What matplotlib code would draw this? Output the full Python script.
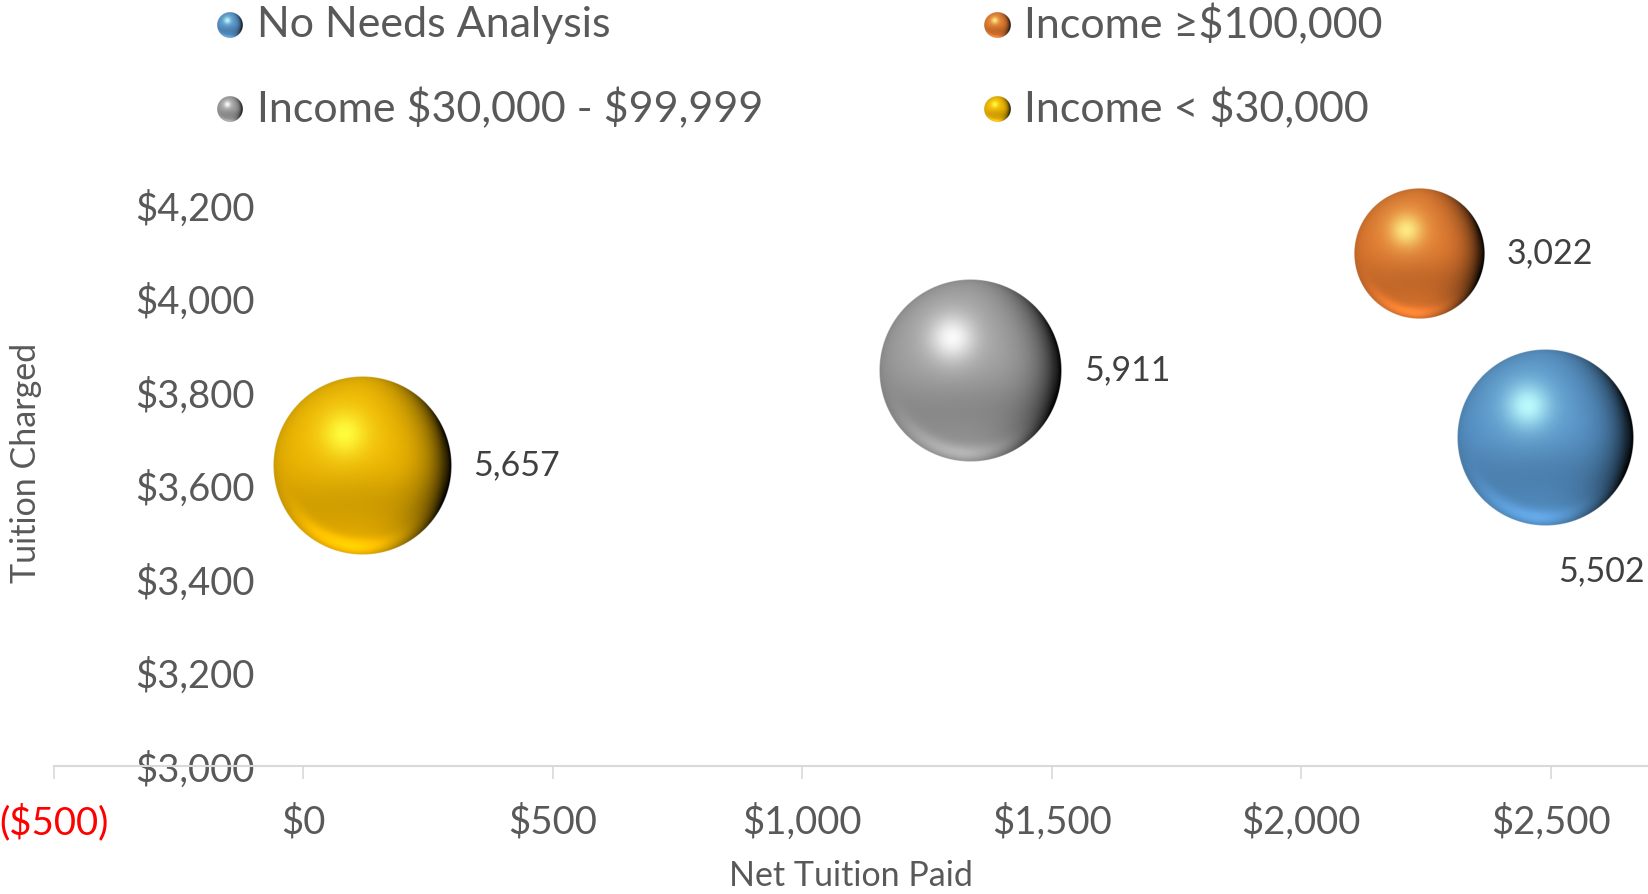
import numpy as np
import matplotlib.pyplot as plt
from matplotlib.colors import to_rgb

plt.rcParams['font.family'] = ['Lato', 'DejaVu Sans']
plt.rcParams['text.parse_math'] = False

# data
series = ["No Needs Analysis", "Income \u2265$100,000",
          "Income $30,000 - $99,999", "Income < $30,000"]
net_paid = [2488, 2236, 1337, 118]
tuition = [3703, 4097, 3847, 3643]
students = [5502, 3022, 5911, 5657]
colors = ["#5B9BD5", "#ED7D31", "#A5A5A5", "#FFC000"]
xticks = [-500, 0, 500, 1000, 1500, 2000, 2500]
yticks = [3000, 3200, 3400, 3600, 3800, 4000, 4200]

W, H = 1648, 894
grey = "#595959"


def sphere(color, n=300):
    # excel-ish "glossy ball" look
    v, u = np.mgrid[1:-1:n * 1j, -1:1:n * 1j]
    r = np.sqrt(u**2 + v**2)
    z = np.sqrt(np.clip(1 - r**2, 0, 1))
    base = np.array(to_rgb(color))
    f = 0.95 - 0.2 * (1 - z) ** 2
    f -= 0.16 * np.exp(-((v + 0.45) / 0.38) ** 2) * np.clip(1 - r, 0, 1) ** 0.3
    f -= 0.9 * np.clip(u + 0.1, 0, 1) ** 2 * (1 - z) ** 0.8
    f += 0.3 * np.exp(-((r - 0.9) / 0.09) ** 2) * np.clip(-v, 0, 1) ** 2 * np.clip(0.9 - u, 0, 1)
    rgb = base * np.clip(f, 0, 1.3)[..., None]
    tint = np.clip(base * 1.4 + 0.25, 0, 1)
    d2 = (u + 0.2) ** 2 + (v - 0.36) ** 2
    h = 0.75 * np.exp(-d2 / 0.06) + 0.2 * np.exp(-d2 / 0.3)
    rgb = rgb + (tint - rgb) * np.clip(h, 0, 1)[..., None]
    rgb = np.clip(rgb, 0, 1)
    alpha = np.clip((1 - r) * n / 2, 0, 1)
    return np.dstack([rgb, alpha])


fig = plt.figure(figsize=(W / 100, H / 100), dpi=100)
ax = fig.add_axes([53.6 / W, 1 - 766.2 / H, 1597 / W, 607.8 / H])
ax.set_xlim(-500, 2700)
ax.set_ylim(3000, 4300)
ax.set_autoscale_on(False)

for s in ["top", "right"]:
    ax.spines[s].set_visible(False)
ax.spines["left"].set_position(("data", 0))
ax.spines["left"].set_visible(False)
ax.spines["bottom"].set_color("#D9D9D9")
ax.spines["bottom"].set_linewidth(1.5)

def money(v):
    return f"(${-v:,.0f})" if v < 0 else f"${v:,.0f}"

ax.set_xticks(xticks)
ax.set_xticklabels([money(v) for v in xticks])
ax.set_yticks(yticks)
ax.set_yticklabels([money(v) for v in yticks])
ax.tick_params(axis="x", direction="out", length=9.5, width=1.2, color="#D9D9D9",
               labelsize=27.5, labelcolor=grey, pad=17.5)
ax.tick_params(axis="y", length=0, labelsize=27.5, labelcolor=grey, pad=35)
for lbl, v in zip(ax.get_xticklabels(), xticks):
    if v < 0:
        lbl.set_color("red")

# bubbles
k = 1.188  # px per sqrt(size)
inv = ax.transData.inverted()
for i in range(len(series)):
    r = k * np.sqrt(students[i])
    cx, cy = ax.transData.transform((net_paid[i], tuition[i]))
    x0, y0 = inv.transform((cx - r, cy - r))
    x1, y1 = inv.transform((cx + r, cy + r))
    ax.imshow(sphere(colors[i]), extent=(x0, x1, y0, y1), aspect="auto",
              zorder=3, interpolation="antialiased")
    if i == 0:
        off = (13 * 0.72, -133.5 * 0.72)
    else:
        off = ((r + 22) * 0.72, 0)
    ax.annotate(f"{students[i]:,}", (net_paid[i], tuition[i]), xytext=off,
                textcoords="offset points", ha="left", va="center",
                fontsize=24.5, color="#404040", annotation_clip=False)

# legend
mx = [230, 997]
my = [25, 109]
for i, name in enumerate(series):
    col, row = i % 2, i // 2
    lax = fig.add_axes([(mx[col] - 13) / W, 1 - (my[row] + 13) / H, 26 / W, 26 / H])
    lax.imshow(sphere(colors[i], 120), interpolation="antialiased")
    lax.axis("off")
    fig.text((mx[col] + 27) / W, 1 - my[row] / H, name, ha="left", va="center",
             fontsize=31, color=grey)

fig.text(851 / W, 1 - 876 / H, "Net Tuition Paid", ha="center", va="center",
         fontsize=24.5, color=grey)
fig.text(26 / W, 1 - 463 / H, "Tuition Charged", ha="center", va="center",
         rotation=90, fontsize=24.5, color=grey)

fig.savefig("out.png", dpi=100)
